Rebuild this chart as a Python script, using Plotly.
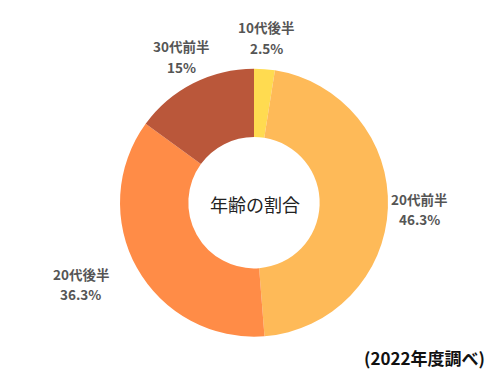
import plotly.graph_objects as go

labels = ["10代後半", "20代前半", "20代後半", "30代前半"]
values = [2.5, 46.3, 36.3, 15]
value_text = ["2.5%", "46.3%", "36.3%", "15%"]
colors = ["#FFDB50", "#FEBA58", "#FF8C47", "#BA573A"]

# label block positions (paper coords): x, y of name line, y of value line
label_pos = [(0.532, 0.9267, 0.8733),
             (0.838, 0.4693, 0.4160),
             (0.161, 0.2693, 0.2160),
             (0.362, 0.8773, 0.8213)]

fig = go.Figure(go.Pie(
    labels=labels,
    values=values,
    textinfo="none",
    hole=0.49,
    sort=False,
    direction="clockwise",
    rotation=0,
    marker=dict(colors=colors, line=dict(width=0)),
    domain=dict(x=[0.24, 0.776], y=[0.1021, 0.8168]),
    showlegend=False,
    hoverinfo="label+percent",
))

lab_font = dict(family="Noto Sans CJK JP", size=13.5, color="#555555", weight="bold")
for name, vt, (x, y1, y2) in zip(labels, value_text, label_pos):
    fig.add_annotation(text=name, x=x, y=y1, xref="paper", yref="paper",
                       xanchor="center", yanchor="middle", showarrow=False, font=lab_font)
    fig.add_annotation(text=vt, x=x, y=y2, xref="paper", yref="paper",
                       xanchor="center", yanchor="middle", showarrow=False, font=lab_font)

fig.add_annotation(text="年齢の割合", x=0.51, y=(375 - 204) / 375, xref="paper", yref="paper",
                   xanchor="center", yanchor="middle", showarrow=False,
                   font=dict(family="Noto Sans CJK JP", size=18, color="#222222"))
fig.add_annotation(text="(2022年度調べ)", x=487 / 500, y=(375 - 357) / 375, xref="paper", yref="paper",
                   xanchor="right", yanchor="middle", showarrow=False,
                   font=dict(family="Noto Sans CJK JP", size=17, color="#111111", weight="bold"))

fig.update_layout(width=500, height=375, margin=dict(l=0, r=0, t=0, b=0),
                  paper_bgcolor="white", plot_bgcolor="white")
fig.write_html("out.html", post_script="document.body.style.margin='0';",
               config={"displayModeBar": False})
